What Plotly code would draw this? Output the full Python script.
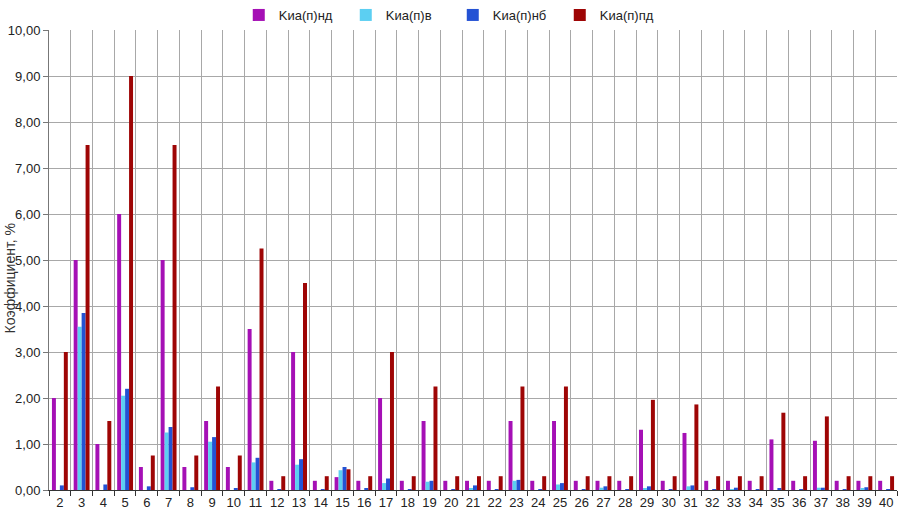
# Коэффициенты по точкам 2..40
import plotly.graph_objects as go

categories = [str(i) for i in range(2, 41)]

k_nd = [2.0, 5.0, 1.0, 6.0, 0.5, 5.0, 0.5, 1.5, 0.5, 3.5,
        0.2, 3.0, 0.2, 0.28, 0.2, 2.0, 0.2, 1.5, 0.2, 0.2,
        0.2, 1.5, 0.2, 1.5, 0.2, 0.2, 0.2, 1.31, 0.2, 1.24,
        0.2, 0.2, 0.2, 1.1, 0.2, 1.07, 0.2, 0.2, 0.2]
k_v = [0.0, 3.55, 0.0, 2.05, 0.0, 1.25, 0.0, 1.05, 0.0, 0.6,
       0.0, 0.55, 0.0, 0.43, 0.0, 0.15, 0.0, 0.18, 0.0, 0.03,
       0.0, 0.2, 0.0, 0.12, 0.0, 0.05, 0.0, 0.03, 0.0, 0.08,
       0.0, 0.01, 0.0, 0.0, 0.0, 0.05, 0.0, 0.03, 0.0]
k_nb = [0.1, 3.85, 0.12, 2.2, 0.08, 1.37, 0.06, 1.15, 0.04, 0.7,
        0.01, 0.67, 0.01, 0.5, 0.04, 0.25, 0.01, 0.2, 0.01, 0.1,
        0.01, 0.22, 0.01, 0.15, 0.01, 0.08, 0.01, 0.08, 0.01, 0.1,
        0.01, 0.05, 0.01, 0.03, 0.01, 0.05, 0.01, 0.06, 0.01]
k_pd = [3.0, 7.5, 1.5, 9.0, 0.75, 7.5, 0.75, 2.25, 0.75, 5.25,
        0.3, 4.5, 0.3, 0.45, 0.3, 3.0, 0.3, 2.25, 0.3, 0.3,
        0.3, 2.25, 0.3, 2.25, 0.3, 0.3, 0.3, 1.96, 0.3, 1.86,
        0.3, 0.3, 0.3, 1.68, 0.3, 1.6, 0.3, 0.3, 0.3]

series = [
    ('Kиа(п)нд', k_nd, '#A510B5'),
    ('Kиа(п)в', k_v, '#5CCFF2'),
    ('Kиа(п)нб', k_nb, '#2452D4'),
    ('Kиа(п)пд', k_pd, '#9E0505'),
]

fig = go.Figure()
for name, vals, color in series:
    fig.add_trace(go.Bar(x=categories, y=vals, name=name,
                         marker=dict(color=color, line=dict(width=0))))

fig.update_layout(
    width=901, height=511,
    barmode='group', bargap=0.27, bargroupgap=0,
    separators=', ',
    plot_bgcolor='white', paper_bgcolor='white',
    font=dict(family='Liberation Sans, Arial, sans-serif', size=13, color='#222222'),
    margin=dict(l=49, r=4, t=27, b=21, pad=0),
    legend=dict(orientation='h', yref='container', xref='container',
                x=0.265, xanchor='left', y=1.0, yanchor='top',
                font=dict(size=13), itemwidth=30, entrywidth=62,
                tracegroupgap=0, bgcolor='rgba(0,0,0,0)'),
    showlegend=True,
)
fig.update_xaxes(type='category', tickson='boundaries', showgrid=True,
                 gridcolor='#A8A8A8', gridwidth=1, ticks='outside', ticklen=5,
                 tickcolor='#333333', showline=True, linecolor='#333333',
                 tickangle=0, tickfont=dict(size=13), automargin=False)
fig.update_yaxes(range=[0, 10], dtick=1, tickformat='.2f', showgrid=True,
                 gridcolor='#A8A8A8', gridwidth=1, ticks='outside', ticklen=5,
                 tickcolor='#777777', showline=True, linecolor='#777777',
                 zeroline=False, tickfont=dict(size=13), automargin=False)
fig.add_annotation(text='Коэффициент, %', xref='paper', yref='paper',
                   x=-0.046, xanchor='center', y=0.46, textangle=-90,
                   showarrow=False, font=dict(size=14, color='#333333'))

# страница без отступов, чтобы график занимал окно целиком
fig.write_html("out.html", config={'displayModeBar': False},
               post_script="document.body.style.margin='0';")
